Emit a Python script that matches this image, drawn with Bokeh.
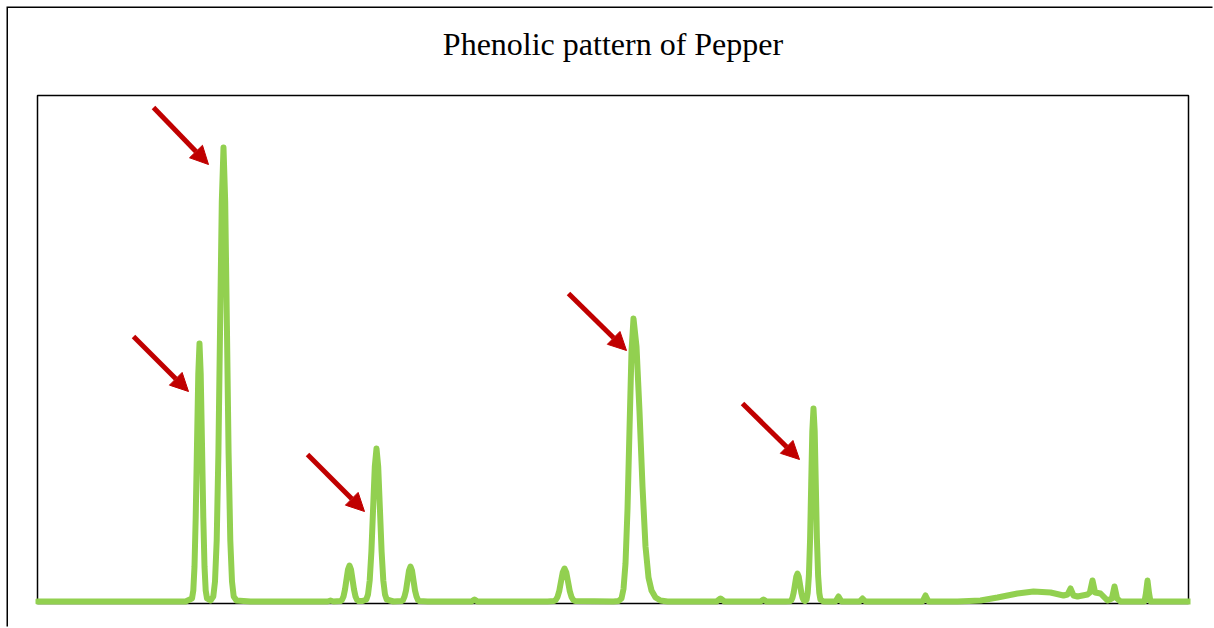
from bokeh.plotting import figure
from bokeh.models import Range1d, Arrow, NormalHead
from bokeh.core.properties import value
from bokeh.embed import file_html
from bokeh.resources import INLINE

# ---- data (retention time in min, signal in mAU) ----
retention_time = [
    0.00, 3.15, 6.50, 7.40,
    7.725, 7.79, 7.85, 7.91, 7.975, 8.04, 8.10, 8.16, 8.225, 8.29, 8.35, 8.41, 8.475,
    8.65,
    8.79, 8.875, 8.96, 9.045, 9.13, 9.215, 9.30, 9.385, 9.47, 9.555, 9.64, 9.725, 9.81, 9.95,
    10.65, 13.15, 14.50, 14.65, 14.80,
    15.15, 15.225, 15.30, 15.375, 15.45, 15.525, 15.60, 15.675, 15.75, 15.825, 15.90, 15.975, 16.05,
    16.25,
    16.44, 16.525, 16.61, 16.695, 16.78, 16.865, 16.95, 17.035, 17.12, 17.205, 17.29, 17.375, 17.46,
    17.80,
    18.20, 18.275, 18.35, 18.425, 18.50, 18.575, 18.65, 18.725, 18.80, 18.875, 18.95, 19.025, 19.10,
    19.50, 21.70, 21.85, 22.00, 25.50,
    25.825, 25.91, 26.00, 26.09, 26.175, 26.26, 26.35, 26.44, 26.525, 26.61, 26.70, 26.79, 26.875,
    28.80,
    29.05, 29.20, 29.30, 29.40, 29.50, 29.60, 29.70, 29.80, 29.95, 30.10, 30.25, 30.40, 30.55, 30.70, 30.90, 31.15, 31.50,
    33.50, 33.95, 34.15, 34.35, 36.15, 36.30, 36.45, 37.40,
    37.625, 37.69, 37.75, 37.81, 37.875, 37.94, 38.00, 38.06, 38.125, 38.19, 38.25, 38.31, 38.375,
    38.455, 38.51, 38.57, 38.63, 38.685, 38.74, 38.80, 38.86, 38.915, 38.97, 39.03, 39.09, 39.145, 39.30,
    39.90, 40.05, 40.20, 41.10, 41.25, 41.40, 44.25, 44.40, 44.55,
    46.00, 47.15, 48.00, 49.00, 49.80, 50.65, 51.30, 51.50, 51.65, 51.80, 52.00, 52.50, 52.62, 52.75, 52.88,
    53.15, 53.50, 53.72, 53.85, 53.98, 54.15, 55.35, 55.42, 55.50, 55.58, 55.65, 57.65,
]
absorbance = [
    0, 0, 0, 0,
    3, 11, 35, 84, 157, 228, 258, 228, 157, 84, 35, 11, 3,
    1,
    5, 20, 61, 148, 276, 400, 454, 400, 276, 148, 61, 20, 5, 1,
    0, 0, 0, 1, 0,
    0.4, 1.6, 5, 12, 22, 32, 36, 32, 22, 12, 5, 1.6, 0.5,
    0.5,
    2, 7, 21, 50, 93, 135, 153, 135, 93, 50, 21, 7, 2,
    0,
    0.4, 1.5, 5, 11, 21, 31, 35, 31, 21, 11, 5, 1.5, 0.4,
    0, 0, 2, 0, 0,
    0.4, 1.5, 4.5, 10.7, 20, 29, 33, 29, 20, 10.7, 4.5, 1.5, 0.4,
    0,
    0.5, 3, 12.5, 38, 92, 172, 250, 283, 255, 190, 115, 55, 24, 11, 4, 1, 0,
    0, 0, 3, 0, 0, 2, 0, 0,
    0.3, 1.2, 3.8, 9, 17, 25, 28, 25, 17, 9, 3.8, 1.2, 0.5,
    2, 8.5, 26, 63, 117, 170, 193, 170, 117, 63, 26, 8.5, 2, 0,
    0, 5, 0, 0, 3, 0, 0, 6, 0,
    0, 1, 4, 8, 10, 9, 6, 7, 13, 6, 5, 7, 9, 21, 9,
    8, 1, 3, 15, 3, 0, 0, 8, 21, 8, 0, 0,
]

# arrows pointing at the marked phenolic peaks (tail -> tip, data units)
arrow_x_start = [5.80, 4.80, 13.50, 26.55, 35.25]
arrow_y_start = [494, 265, 147, 308, 198]
arrow_x_end = [8.55, 7.55, 16.35, 29.45, 38.10]
arrow_y_end = [437, 210, 90, 251, 142]

title_text = "Phenolic pattern of Pepper"

# plot-area limits (the boxed region) and the wider canvas range that also holds the title
PLOT_X_MIN, PLOT_X_MAX = 0.0, 57.55
PLOT_Y_MIN, PLOT_Y_MAX = -2, 506
TITLE_Y = 558

# ---- figure ----
p = figure(
    width=1206, height=620,
    output_backend="svg", toolbar_location=None,
    x_axis_type=None, y_axis_type=None,
    x_range=Range1d(PLOT_X_MIN - 0.1, PLOT_X_MAX + 0.1),
    y_range=Range1d(PLOT_Y_MIN - 2, 593),
    min_border_left=27, min_border_right=24, min_border_top=0, min_border_bottom=23,
)

p.background_fill_color = "white"
p.border_fill_color = "white"
p.outline_line_color = None
p.styles = {"margin-left": "8px", "margin-top": "8px",
            "box-shadow": "-1.5px -1.5px 0px 0px #000000"}

# plot-area border
p.quad(left=[PLOT_X_MIN], right=[PLOT_X_MAX], bottom=[PLOT_Y_MIN], top=[PLOT_Y_MAX],
       fill_color=None, line_color="black", line_width=1.5)

# chart title
p.text(x=[(PLOT_X_MIN + PLOT_X_MAX) / 2], y=[TITLE_Y], text=[title_text],
       text_align="center", text_baseline="alphabetic",
       text_font=value("Liberation Serif"), text_font_size="32px", text_color="black")

p.line(retention_time, absorbance, line_color="#92D050", line_width=6,
       line_join="round", line_cap="round")

for xs, ys, xe, ye in zip(arrow_x_start, arrow_y_start, arrow_x_end, arrow_y_end):
    p.add_layout(Arrow(
        end=NormalHead(size=18, fill_color="#C00000", line_color="#C00000", line_width=1),
        x_start=xs, y_start=ys, x_end=xe, y_end=ye,
        line_color="#C00000", line_width=5,
    ))

open("out.html", "w").write(file_html(p, INLINE))
